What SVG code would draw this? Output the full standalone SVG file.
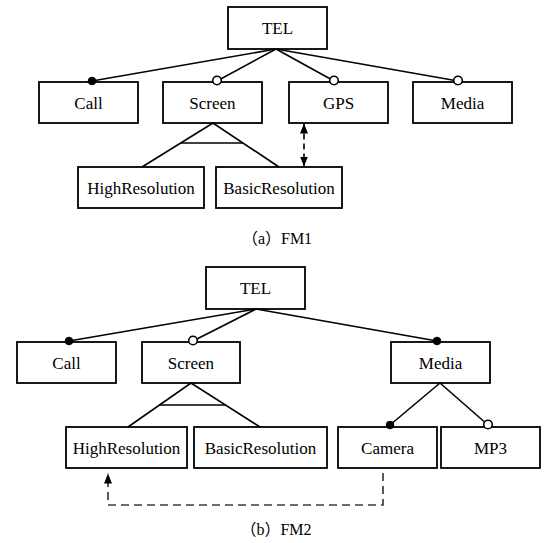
<svg xmlns="http://www.w3.org/2000/svg" width="544" height="543" viewBox="0 0 544 543">
  <style>
    .box { fill: #fff; stroke: #000; stroke-width: 1.8; }
    .lbl { font-size: 17px; text-anchor: middle; fill: #000; }
    .cap { font-size: 16px; text-anchor: middle; fill: #000; }
    .ln { fill: none; stroke: #000; stroke-width: 1.6; }
    .dash { fill: none; stroke: #000; stroke-width: 1.6; stroke-dasharray: 6 4; }
    .dash2 { fill: none; stroke: #3c3c3c; stroke-width: 1.7; stroke-dasharray: 8 5; }
    .man { fill: #000; stroke: #000; stroke-width: 1; }
    .opt { fill: #fff; stroke: #000; stroke-width: 1.6; }
  </style>
  <defs>
    <marker id="arr" markerUnits="userSpaceOnUse" markerWidth="10" markerHeight="8" refX="10" refY="4" orient="auto-start-reverse">
      <path d="M0,0 L10,4 L0,8 z" fill="#000"/>
    </marker>
  </defs>

  <g font-family="'Liberation Serif', 'Times New Roman', Tinos, 'DejaVu Serif', serif">
  <!-- FM1 nodes -->
  <g id="fm1-tel"><rect class="box" x="228" y="7" width="99" height="42"/><text class="lbl" x="277.5" y="34">TEL</text></g>
  <g id="fm1-call"><rect class="box" x="39" y="82" width="99" height="41"/><text class="lbl" x="88.5" y="109">Call</text></g>
  <g id="fm1-screen"><rect class="box" x="163" y="82" width="99" height="41"/><text class="lbl" x="212.5" y="109">Screen</text></g>
  <g id="fm1-gps"><rect class="box" x="289" y="82" width="99" height="41"/><text class="lbl" x="338.5" y="109">GPS</text></g>
  <g id="fm1-media"><rect class="box" x="413" y="82" width="99" height="41"/><text class="lbl" x="462.5" y="109">Media</text></g>
  <g id="fm1-high"><rect class="box" x="78" y="167" width="126" height="41"/><text class="lbl" x="141" y="194">HighResolution</text></g>
  <g id="fm1-basic"><rect class="box" x="216" y="167" width="126" height="41"/><text class="lbl" x="279" y="194">BasicResolution</text></g>
  <g id="cap-a"><text class="cap" x="277" y="244" font-family="'Liberation Serif', 'Noto Sans CJK SC', serif">（a）FM1</text></g>

  <!-- FM2 nodes -->
  <g id="fm2-tel"><rect class="box" x="206" y="267" width="99" height="42"/><text class="lbl" x="255.5" y="294">TEL</text></g>
  <g id="fm2-call"><rect class="box" x="17" y="342" width="99" height="41"/><text class="lbl" x="66.5" y="369">Call</text></g>
  <g id="fm2-screen"><rect class="box" x="142" y="342" width="98" height="41"/><text class="lbl" x="191" y="369">Screen</text></g>
  <g id="fm2-media"><rect class="box" x="391" y="342" width="99" height="41"/><text class="lbl" x="440.5" y="369">Media</text></g>
  <g id="fm2-high"><rect class="box" x="66" y="427" width="121" height="41"/><text class="lbl" x="126.5" y="454">HighResolution</text></g>
  <g id="fm2-basic"><rect class="box" x="194" y="427" width="133" height="41"/><text class="lbl" x="260.5" y="454">BasicResolution</text></g>
  <g id="fm2-camera"><rect class="box" x="338" y="427" width="99" height="41"/><text class="lbl" x="387.5" y="454">Camera</text></g>
  <g id="fm2-mp3"><rect class="box" x="441" y="427" width="99" height="41"/><text class="lbl" x="490.5" y="454">MP3</text></g>
  <g id="cap-b"><text class="cap" x="276" y="535" font-family="'Liberation Serif', 'Noto Sans CJK SC', serif">（b）FM2</text></g>
  </g>

  <!-- connectors -->
  <g id="connectors">
    <!-- FM1 -->
    <line class="ln" x1="276" y1="49" x2="92" y2="81"/>
    <line class="ln" x1="276" y1="49" x2="217" y2="81"/>
    <line class="ln" x1="276" y1="49" x2="334" y2="81"/>
    <line class="ln" x1="276" y1="49" x2="458" y2="81"/>
    <circle class="man" cx="92" cy="81" r="3.8"/>
    <circle class="opt" cx="217" cy="80.5" r="4.3"/>
    <circle class="opt" cx="334" cy="80.5" r="4.3"/>
    <circle class="opt" cx="458" cy="80.5" r="4.3"/>
    <path class="ln" d="M142,167 L213,123 L279,167"/>
    <line class="ln" x1="180.7" y1="143" x2="243" y2="143"/>
    <line class="dash" x1="304" y1="123.5" x2="304" y2="166.5" marker-start="url(#arr)" marker-end="url(#arr)"/>

    <!-- FM2 -->
    <line class="ln" x1="256" y1="309" x2="69" y2="341"/>
    <line class="ln" x1="256" y1="309" x2="193" y2="341"/>
    <line class="ln" x1="256" y1="309" x2="437" y2="341"/>
    <circle class="man" cx="69" cy="341" r="3.8"/>
    <circle class="opt" cx="193" cy="340.5" r="4.3"/>
    <circle class="man" cx="437" cy="341" r="3.8"/>
    <path class="ln" d="M128,427 L191,383 L260,427"/>
    <line class="ln" x1="159.5" y1="405" x2="225.5" y2="405"/>
    <line class="ln" x1="440" y1="383" x2="390" y2="425"/>
    <line class="ln" x1="440" y1="383" x2="488" y2="425"/>
    <circle class="man" cx="390" cy="425" r="3.8"/>
    <circle class="opt" cx="488" cy="424.5" r="4.3"/>
    <path class="dash2" d="M383,473 L383,505 L108,505 L108,473.5" marker-end="url(#arr)"/>
  </g>
</svg>
